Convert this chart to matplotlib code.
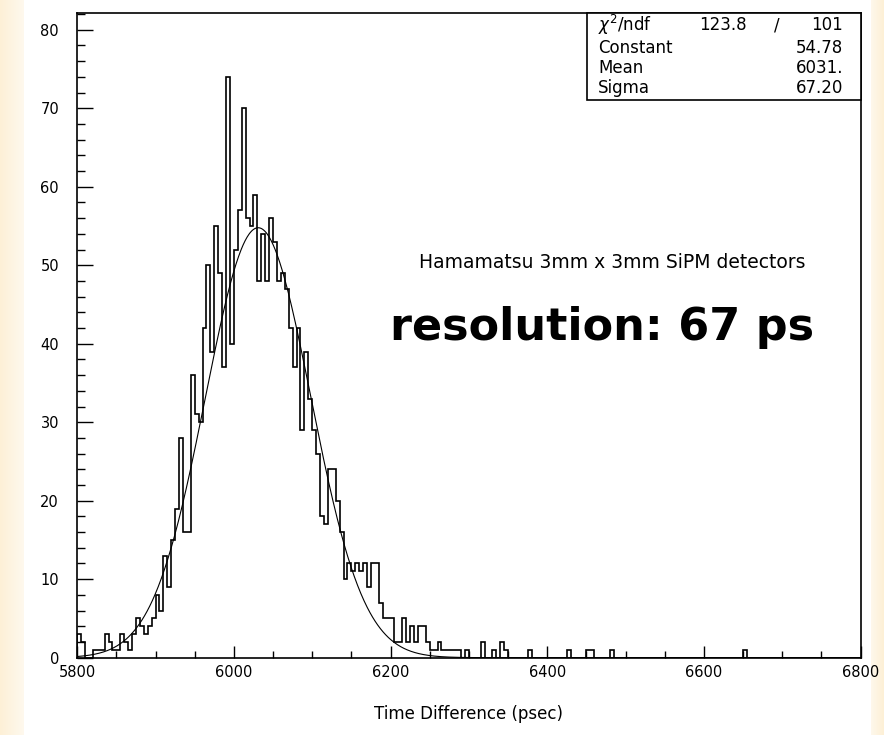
import numpy as np
import matplotlib
matplotlib.use("Agg")
import matplotlib.pyplot as plt
from matplotlib.ticker import MultipleLocator
from matplotlib.patches import Rectangle

# ---------------- data ----------------
x_min = 5800
x_max = 6800
n_bins = 200
counts = [
    3, 2, 0, 0, 1, 1, 1, 3, 2, 1,
    1, 3, 2, 1, 3, 5, 4, 3, 4, 5,
    8, 6, 13, 9, 15, 19, 28, 16, 16, 36,
    31, 30, 42, 50, 39, 55, 49, 37, 74, 40,
    52, 57, 70, 56, 55, 59, 48, 54, 48, 56,
    53, 48, 49, 47, 42, 37, 42, 29, 39, 33,
    29, 26, 18, 17, 24, 24, 20, 16, 10, 12,
    11, 12, 11, 12, 9, 12, 12, 7, 5, 5,
    5, 2, 2, 5, 2, 4, 2, 4, 4, 2,
    1, 1, 2, 1, 1, 1, 1, 1, 0, 1,
    0, 0, 0, 2, 0, 0, 1, 0, 2, 1,
    0, 0, 0, 0, 0, 1, 0, 0, 0, 0,
    0, 0, 0, 0, 0, 1, 0, 0, 0, 0,
    1, 1, 0, 0, 0, 0, 1, 0, 0, 0,
    0, 0, 0, 0, 0, 0, 0, 0, 0, 0,
    0, 0, 0, 0, 0, 0, 0, 0, 0, 0,
    0, 0, 0, 0, 0, 0, 0, 0, 0, 0,
    1, 0, 0, 0, 0, 0, 0, 0, 0, 0,
    0, 0, 0, 0, 0, 0, 0, 0, 0, 0,
    0, 0, 0, 0, 0, 0, 0, 0, 0, 0,
]
fit_constant = 54.78
fit_mean = 6031.0
fit_sigma = 67.20
chi2_text = "123.8"
ndf_text = "101"
stats_labels = ["Constant", "Mean", "Sigma"]
stats_values = ["54.78", "6031.", "67.20"]
x_ticks = [5800, 6000, 6200, 6400, 6600, 6800]
y_ticks = [0, 10, 20, 30, 40, 50, 60, 70, 80]
x_label = "Time Difference (psec)"
note_text = "Hamamatsu 3mm x 3mm SiPM detectors"
result_text = "resolution: 67 ps"

# ---------------- figure ----------------
fig = plt.figure(figsize=(8.84, 7.35), dpi=100)
fig.patch.set_facecolor("white")

# cream border strip on the left / right edges
bg = fig.add_axes([0, 0, 1, 1], zorder=-10)
bg.set_axis_off()
W = 884
grad = np.ones((1, W, 3))
cream = np.array([253, 240, 214]) / 255.0
for i in range(W):
    if i < 24:
        t = i / 24.0
        grad[0, i] = cream * (1 - t * 0.6) + np.ones(3) * t * 0.6
    elif i > W - 14:
        t = (W - 1 - i) / 14.0
        grad[0, i] = cream * (1 - t * 0.6) + np.ones(3) * t * 0.6
bg.imshow(grad, aspect="auto", extent=[0, 1, 0, 1])
bg.set_xlim(0, 1)
bg.set_ylim(0, 1)

ax = fig.add_axes([0.0873, 0.1052, 0.8863, 0.8767])
ax.set_facecolor("white")

edges = np.linspace(x_min, x_max, n_bins + 1)
ax.stairs(counts, edges, color="black", linewidth=1.2, baseline=0)

xf = np.linspace(x_min, x_max, 1200)
yf = fit_constant * np.exp(-0.5 * ((xf - fit_mean) / fit_sigma) ** 2)
ax.plot(xf, yf, color="black", linewidth=0.8)

ax.set_xlim(x_min, x_max)
ax.set_ylim(0, 82.1)

ax.set_xticks(x_ticks)
ax.set_yticks(y_ticks)
ax.xaxis.set_minor_locator(MultipleLocator(50))
ax.yaxis.set_minor_locator(MultipleLocator(2))
ax.tick_params(axis="y", which="major", direction="in", length=11.5, width=1.0,
               pad=13, labelsize=10.5, left=True, right=False)
ax.tick_params(axis="y", which="minor", direction="in", length=5.8, width=1.0,
               left=True, right=False)
ax.tick_params(axis="x", which="major", direction="in", length=8.6, width=1.0,
               pad=5, labelsize=10.5, bottom=True, top=False)
ax.tick_params(axis="x", which="minor", direction="in", length=5.0, width=1.0,
               bottom=True, top=False)
for sp in ax.spines.values():
    sp.set_linewidth(1.2)
    sp.set_color("black")

ax.set_xlabel(x_label, fontsize=12, labelpad=18)

# stats box
box_x0, box_y0 = 0.6507, 0.8655
ax.add_patch(Rectangle((box_x0, box_y0), 1 - box_x0, 1 - box_y0,
                       transform=ax.transAxes, facecolor="white",
                       edgecolor="black", linewidth=1.2, zorder=5,
                       clip_on=False))
row_y = [0.9818, 0.9466, 0.9150, 0.8840]
lab_x = 0.6647
val_x = 0.9774
fs_box = 12
ax.text(lab_x, row_y[0], r"$\chi^2$/ndf", transform=ax.transAxes, fontsize=fs_box,
        ha="left", va="center", zorder=6)
ax.text(0.855, row_y[0], chi2_text, transform=ax.transAxes, fontsize=fs_box,
        ha="right", va="center", zorder=6)
ax.text(0.893, row_y[0], "/", transform=ax.transAxes, fontsize=fs_box,
        ha="center", va="center", zorder=6)
ax.text(val_x, row_y[0], ndf_text, transform=ax.transAxes, fontsize=fs_box,
        ha="right", va="center", zorder=6)
for i, (lab, val) in enumerate(zip(stats_labels, stats_values)):
    ax.text(lab_x, row_y[i + 1], lab, transform=ax.transAxes, fontsize=fs_box,
            ha="left", va="center", zorder=6)
    ax.text(val_x, row_y[i + 1], val, transform=ax.transAxes, fontsize=fs_box,
            ha="right", va="center", zorder=6)

ax.text(0.6826, 0.614, note_text, transform=ax.transAxes, fontsize=13.5,
        ha="center", va="center")
ax.text(0.6705, 0.5117, result_text, transform=ax.transAxes, fontsize=32,
        fontweight="bold", ha="center", va="center")

fig.savefig("out.png", dpi=100)
